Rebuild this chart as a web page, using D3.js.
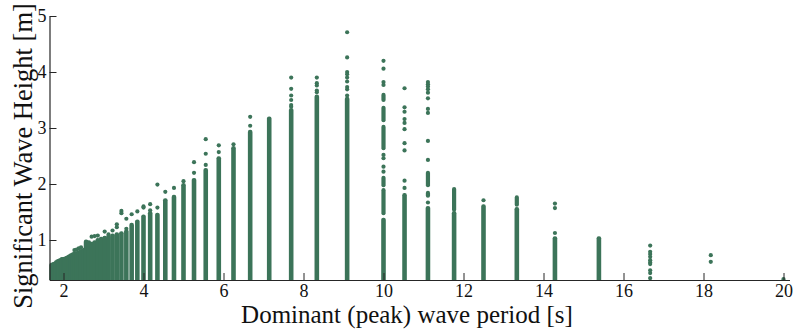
<!DOCTYPE html>
<html>
<head>
<meta charset="utf-8">
<script src="https://cdn.jsdelivr.net/npm/d3@7"></script>
<style>
  body { margin: 0; background: #fff; }
  svg { display: block; }
</style>
</head>
<body>
<svg id="chart" width="795" height="333" font-family="Liberation Serif, Times New Roman, serif"></svg>
<script>
// peak periods of the spectral bins [s]
var periods = [1.667, 1.695, 1.724, 1.754, 1.786, 1.818, 1.852, 1.887, 1.923, 1.961,
	2.0, 2.041, 2.083, 2.128, 2.174, 2.222, 2.273, 2.326, 2.381, 2.439,
	2.5, 2.564, 2.632, 2.703, 2.778, 2.857, 2.941, 3.030, 3.125, 3.226,
	3.333, 3.448, 3.571, 3.704, 3.846, 4.0, 4.167, 4.348, 4.545, 4.762,
	5.0, 5.263, 5.556, 5.882, 6.25, 6.667, 7.143, 7.692, 8.333, 9.091,
	10.0, 10.526, 11.111, 11.765, 12.5, 13.333, 14.286, 15.385, 16.667, 18.182, 20.0];

// top of the densely packed points in each period bin [m] (0 = no dense part)
var denseTop = [0.53, 0.55, 0.56, 0.57, 0.58, 0.60, 0.62, 0.63, 0.64, 0.66,
	0.66, 0.67, 0.68, 0.70, 0.72, 0.74, 0.76, 0.76, 0.78, 0.80,
	0.82, 0.97, 0.96, 0.93, 0.96, 1.00, 1.02, 1.04, 1.06, 1.08,
	1.10, 1.12, 1.15, 1.27, 1.33, 1.42, 1.48, 1.45, 1.71, 1.77,
	1.98, 2.07, 2.25, 2.46, 2.64, 2.93, 3.17, 3.32, 3.56, 3.52,
	1.36, 1.80, 1.57, 1.48, 1.60, 1.55, 1.03, 1.03, 0, 0, 0];

// extra packed runs above the dense part: [period, [low, high]]
var extraRuns = [
	[10.0, [1.48, 1.89]], [10.0, [1.98, 2.11]], [10.0, [2.64, 3.02]],
	[10.0, [3.14, 3.36]], [10.0, [3.50, 3.59]],
	[11.111, [1.79, 1.84]], [11.111, [1.98, 2.20]],
	[11.765, [1.54, 1.91]], [13.333, [1.63, 1.76]]
];

// isolated observations: [period, heights]
var outliers = [
	[2.273, [0.82]], [2.326, [0.83]], [2.381, [0.85]], [2.439, [0.87]],
	[2.703, [1.06]], [2.778, [1.07]], [2.857, [1.08]], [3.030, [1.15]],
	[3.125, [1.10]], [3.226, [1.17]], [3.333, [1.28, 1.23]], [3.448, [1.52, 1.48]],
	[3.571, [1.38, 1.20]], [3.704, [1.46]], [3.846, [1.51]], [4.0, [1.60, 1.58]],
	[4.167, [1.64, 1.53]], [4.348, [1.99, 1.58]], [4.545, [1.86]], [4.762, [1.93]],
	[5.0, [2.05]], [5.263, [2.39, 2.20]], [5.556, [2.80, 2.54, 2.34]],
	[5.882, [2.69, 2.57]], [6.25, [2.71]], [6.667, [3.20, 3.04]],
	[7.692, [3.90, 3.70, 3.58, 3.50, 3.41, 3.38]],
	[8.333, [3.90, 3.80, 3.76, 3.67, 3.64]],
	[9.091, [4.71, 4.26, 4.00, 3.96, 3.90, 3.83, 3.73, 3.69, 3.58]],
	[10.0, [4.20, 4.06, 3.82, 3.77, 2.52, 2.46, 2.31, 2.22]],
	[10.526, [3.71, 3.37, 3.29, 3.16, 3.09, 2.98, 2.73, 2.60, 2.06, 1.93]],
	[11.111, [3.82, 3.78, 3.74, 3.69, 3.63, 3.53, 3.34, 3.27, 2.77, 2.43, 1.67]],
	[12.5, [1.71]], [14.286, [1.65, 1.57, 1.125]],
	[16.667, [0.90, 0.79, 0.75, 0.70, 0.64, 0.60, 0.57, 0.46, 0.41, 0.32]],
	[18.182, [0.73, 0.61]], [20.0, [0.30]]
];

var xTicks = [2, 4, 6, 8, 10, 12, 14, 16, 18, 20];
var yTicks = [1, 2, 3, 4, 5];

var green = "#3c7459";
var dotR = 2.1;
var serif = "Liberation Serif, Times New Roman, serif";

var svg = d3.select("#chart");

var x = d3.scaleLinear().domain([1.65, 20.15]).range([49.5, 789.5]);
var y = d3.scaleLinear().domain([0.286, 5]).range([280, 16]);

svg.append("clipPath")
	.attr("id", "plotclip")
	.append("rect")
	.attr("x", x.range()[0])
	.attr("y", 0)
	.attr("width", x.range()[1] - x.range()[0] + 10)
	.attr("height", y.range()[0]);

var plot = svg.append("g").attr("clip-path", "url(#plotclip)");

// dense parts of each column
var dense = periods.map(function(p, i) { return [p, denseTop[i]]; })
	.filter(function(d) { return d[1] > 0; });

plot.selectAll("rect.dense")
	.data(dense)
	.enter()
	.append("rect")
	.attr("class", "dense")
	.attr("x", function(d) { return x(d[0]) - dotR - 0.2; })
	.attr("y", function(d) { return y(d[1]) - dotR; })
	.attr("width", 2 * dotR + 0.4)
	.attr("height", function(d) { return y.range()[0] - y(d[1]) + dotR + 4; })
	.attr("rx", dotR)
	.attr("fill", green);

plot.selectAll("rect.run")
	.data(extraRuns)
	.enter()
	.append("rect")
	.attr("class", "run")
	.attr("x", function(d) { return x(d[0]) - dotR; })
	.attr("y", function(d) { return y(d[1][1]) - dotR; })
	.attr("width", 2 * dotR)
	.attr("height", function(d) { return y(d[1][0]) - y(d[1][1]) + 2 * dotR; })
	.attr("rx", dotR)
	.attr("fill", green);

var dots = [];
outliers.forEach(function(o) {
	o[1].forEach(function(h) { dots.push([o[0], h]); });
});

plot.selectAll("circle")
	.data(dots)
	.enter()
	.append("circle")
	.attr("cx", function(d) { return x(d[0]); })
	.attr("cy", function(d) { return y(d[1]); })
	.attr("r", dotR)
	.attr("fill", green);

// axes, ticks pointing inwards
var xAxis = svg.append("g")
	.attr("transform", "translate(0," + y.range()[0] + ")")
	.call(d3.axisBottom(x).tickValues(xTicks).tickFormat(d3.format("d"))
		.tickSize(-7).tickSizeOuter(0).tickPadding(4));

var yAxis = svg.append("g")
	.attr("transform", "translate(" + x.range()[0] + ",0)")
	.call(d3.axisLeft(y).tickValues(yTicks).tickFormat(d3.format("d"))
		.tickSize(-7).tickSizeOuter(0).tickPadding(3));

[xAxis, yAxis].forEach(function(a) {
	a.attr("font-family", serif).attr("font-size", 18);
	a.select(".domain").attr("stroke", "#262626").attr("stroke-width", 1.2);
	a.selectAll(".tick line").attr("stroke", "#262626");
	a.selectAll(".tick text").attr("fill", "#111");
});

svg.append("text")
	.attr("x", 407)
	.attr("y", 323)
	.attr("text-anchor", "middle")
	.attr("font-family", serif)
	.attr("font-size", 25)
	.attr("fill", "#111")
	.text("Dominant (peak) wave period [s]");

svg.append("text")
	.attr("transform", "translate(32,156) rotate(-90)")
	.attr("text-anchor", "middle")
	.attr("font-family", serif)
	.attr("font-size", 26.5)
	.attr("fill", "#111")
	.text("Significant Wave Height [m]");
</script>
</body>
</html>
